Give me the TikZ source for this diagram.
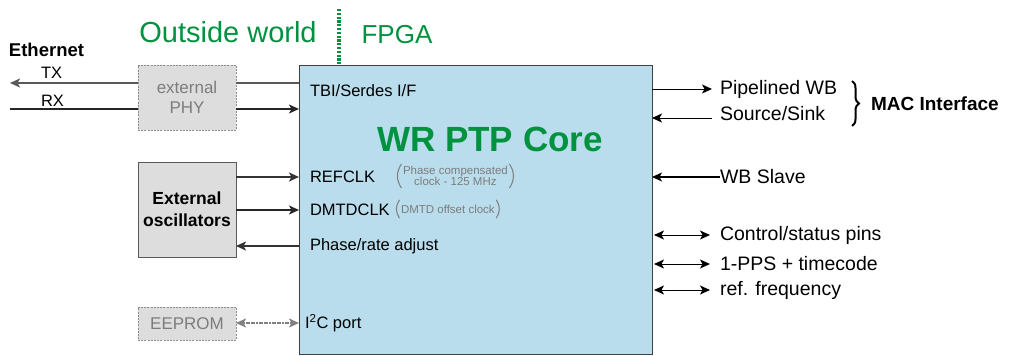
\documentclass[tikz,border=0pt]{standalone}
\usepackage{fontspec}
\setmainfont{Liberation Sans}
\usetikzlibrary{arrows.meta,decorations.pathreplacing}
\definecolor{corefill}{RGB}{185,221,236}
\definecolor{wrgreen}{RGB}{0,146,63}
\definecolor{boxgray}{RGB}{221,221,221}
\definecolor{txtgray}{RGB}{125,125,125}

\begin{document}
\begin{tikzpicture}[x=1pt, y=-1pt, >={Stealth[length=10pt,width=9pt,inset=2.5pt]},
  every node/.style={inner sep=0pt, outer sep=0pt},
  core/.style={draw=black!75, fill=corefill, line width=1pt},
  ext box/.style={draw=black!45, fill=boxgray, line width=0.8pt,
    dash pattern=on 2pt off 1.2pt, text=txtgray, align=center,
    font=\fontsize{17}{20}\selectfont},
  osc box/.style={draw=black!65, fill=boxgray, line width=1pt, align=center,
    font=\bfseries\fontsize{17.5}{22}\selectfont},
  port/.style={anchor=west, font=\fontsize{16.5}{19}\selectfont},
  pin/.style={anchor=west, font=\fontsize{19.5}{22}\selectfont},
  note/.style={anchor=west, text=txtgray, align=center, inner ysep=2pt,
    font=\fontsize{11.5}{10.5}\selectfont},
  paren/.style={draw=txtgray, line width=1pt},
  title/.style={text=wrgreen, font=\fontsize{29}{32}\selectfont},
  thick line/.style={line width=2.8pt, draw=black!80},
  thin line/.style={line width=1.4pt, draw=black!85}]

\useasboundingbox (0,0) rectangle (1012,356);

% blocks
\node [core, anchor=north west, minimum width=353pt, minimum height=289pt]
  (core) at (299,65) {};
\node [ext box, anchor=north west, minimum width=98pt, minimum height=65pt]
  (phy) at (138,65) {external\\PHY};
\node [osc box, anchor=north west, minimum width=98pt, minimum height=95pt]
  (osc) at (138,162) {External\\oscillators};
\node [ext box, anchor=north west, minimum width=98pt, minimum height=33pt]
  (eeprom) at (138,307) {EEPROM};

\node [text=wrgreen, text depth=0pt, font=\bfseries\fontsize{35}{38}\selectfont]
  (core-name) at (490,139) {WR PTP Core};

% outside world / FPGA
\node [title] (outside) at (228,32) {Outside world};
\node [title, font=\fontsize{26}{30}\selectfont] (fpga) at (397,35) {FPGA};
\coordinate (border-top) at (339,9);
\draw [wrgreen, line width=3.2pt, dash pattern=on 2.2pt off 1.6pt]
  (border-top) -- (core.north -| border-top);

% ethernet
\node [font=\bfseries\fontsize{18.5}{20}\selectfont, anchor=west] (eth) at (9,50) {Ethernet};
\coordinate (tx-end) at (10,83);
\coordinate (rx-start) at (10,109);
\node [port] (tx) at (41,73) {TX};
\node [port] (rx) at (41,101) {RX};
\draw [line width=2.6pt, draw=black!65] (core.west |- tx-end) -- (phy.east |- tx-end);
\draw [->, line width=2.6pt, draw=black!65] (phy.west |- tx-end) -- (tx-end);
\draw [thin line] (rx-start) -- (phy.west |- rx-start);
\draw [->, thin line] (phy.east |- rx-start) -- (core.west |- rx-start);
\node [port] (tbi) at (310,91) {TBI/Serdes I/F};

% clocks
\node [port] (refclk) at (310,177) {REFCLK};
\node [note] (refclk-note) at (403,176) {Phase compensated\\clock - 125 MHz};
\node [note, inner ysep=5pt] (dmtd-note) at (401,209) {DMTD offset clock};
\draw [paren] ([xshift=-1.5pt]refclk-note.north west) to[bend right=35] ([xshift=-1.5pt]refclk-note.south west);
\draw [paren] ([xshift=1.5pt]refclk-note.north east) to[bend left=35] ([xshift=1.5pt]refclk-note.south east);
\draw [paren] ([xshift=-1.5pt]dmtd-note.north west) to[bend right=35] ([xshift=-1.5pt]dmtd-note.south west);
\draw [paren] ([xshift=1.5pt]dmtd-note.north east) to[bend left=35] ([xshift=1.5pt]dmtd-note.south east);
\node [port] (dmtd) at (310,210) {DMTDCLK};
\node [port] (adjust) at (310,246) {Phase/rate adjust};
\draw [->, thick line] (osc.east |- refclk) -- (core.west |- refclk);
\draw [->, thin line] (osc.east |- dmtd) -- (core.west |- dmtd);
\draw [->, thick line] (core.west |- adjust) -- (osc.east |- adjust);

% eeprom
\node [port] (i2c) at (305,323) {I\textsuperscript{2}C port};
\draw [<->, line width=1.5pt, draw=black!50, dash pattern=on 2pt off 0.6pt]
  (eeprom.east |- i2c) -- (core.west |- i2c);

% MAC interface
\node [pin] (wb-src) at (720,89) {Pipelined WB};
\node [pin] (wb-snk) at (720,114) {Source/Sink};
\coordinate (snk-end) at (712,118);
\draw [->, line width=1pt] (core.east |- wb-src) -- ([xshift=-8pt]wb-src.west);
\draw [<-, line width=1pt] (core.east |- snk-end) -- (snk-end);
\draw [decorate, decoration={brace, amplitude=7pt}, line width=2pt]
  (852,81) -- (852,126);
\node [anchor=west, font=\bfseries\fontsize{19}{22}\selectfont] (mac) at (871,104) {MAC Interface};

% slave and pins
\node [pin] (wb-slave) at (720,177) {WB Slave};
\draw [<-, line width=1.2pt] (core.east |- wb-slave) -- (wb-slave.west);

\foreach \name/\l/\y in {ctrl/Control\slash status pins/235, pps/1-PPS + timecode/264, ref/ref. frequency/290} {
  \node [pin] (\name) at (720,\y) {\l};
  \draw [<->, line width=1pt] ([xshift=2pt]core.east |- \name) -- ([xshift=-10pt]\name.west);
}
\end{tikzpicture}
\end{document}
